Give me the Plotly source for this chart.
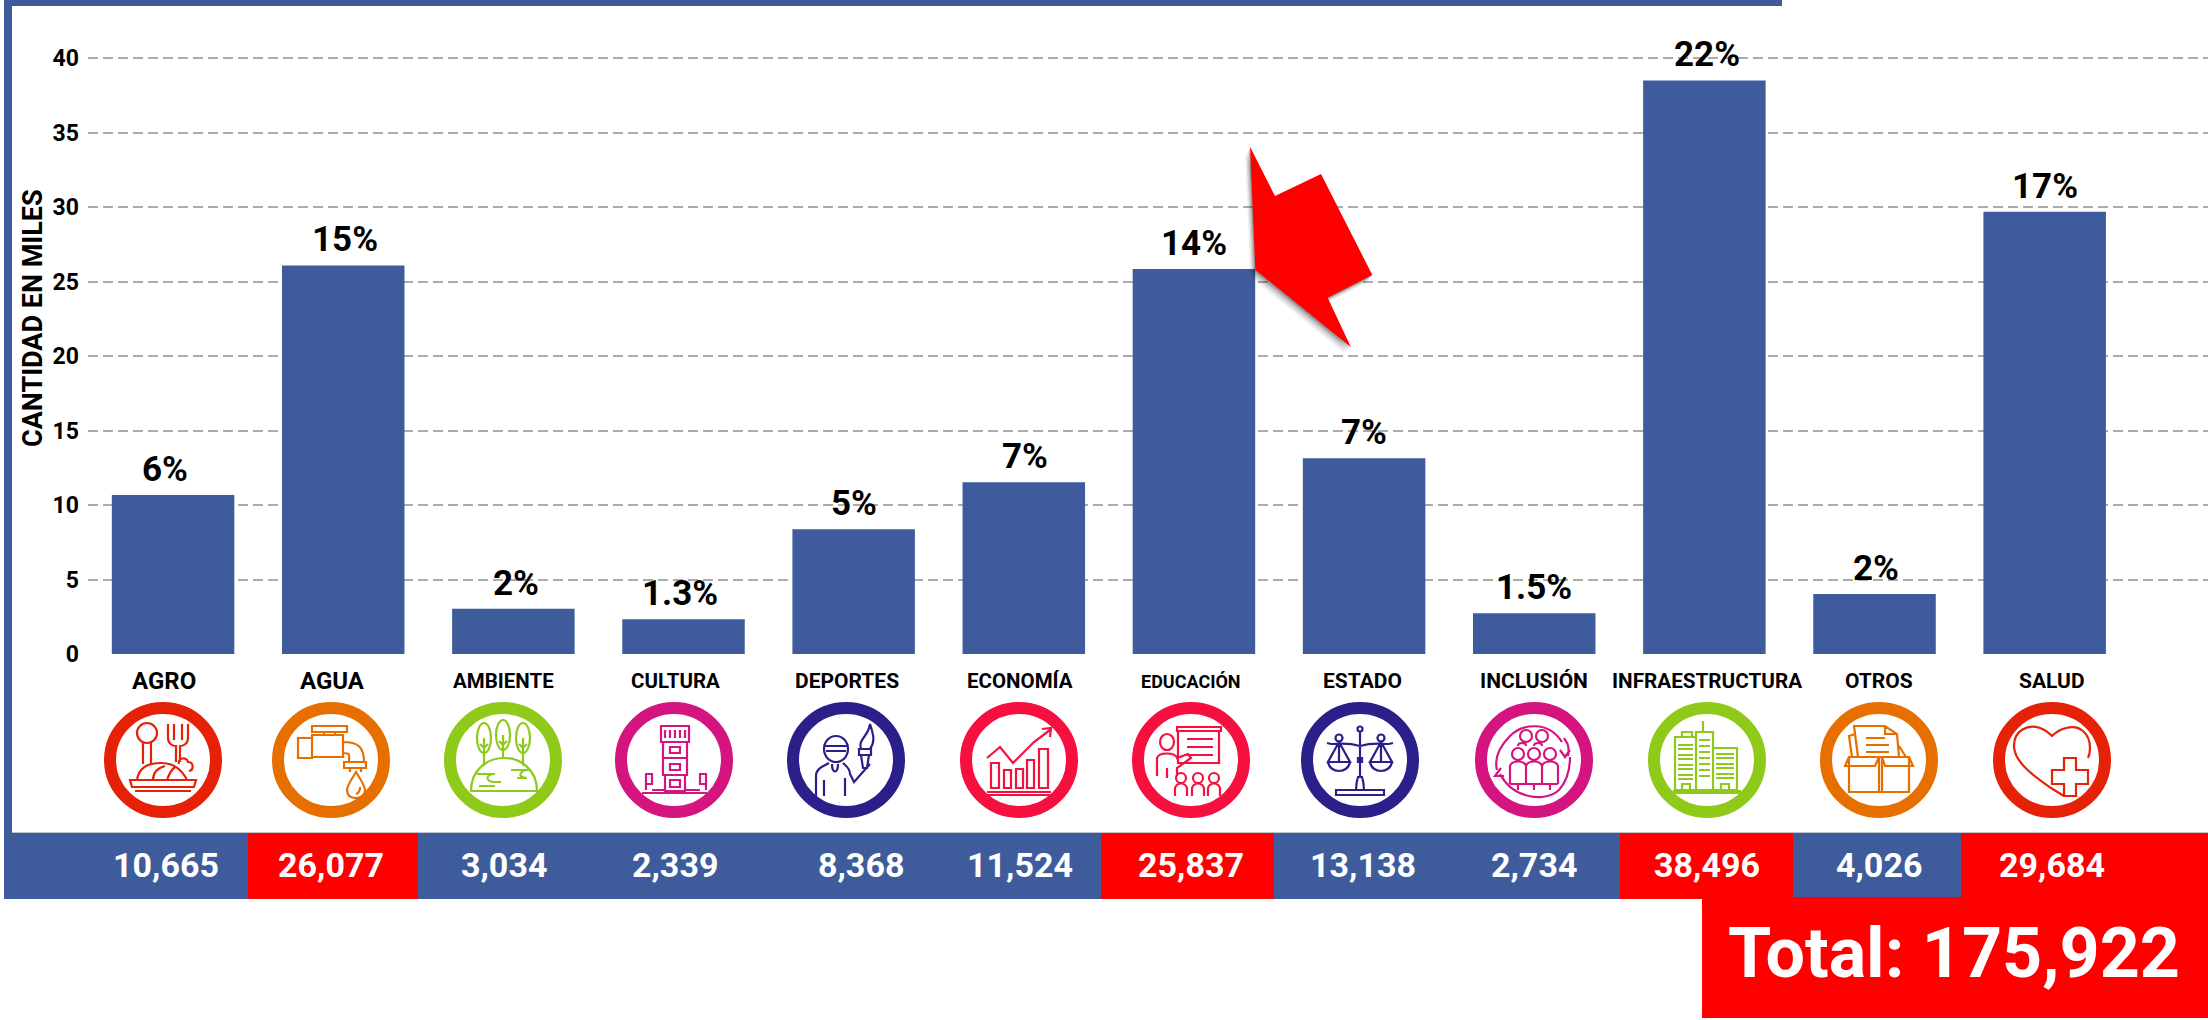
import re
import plotly.graph_objects as go

W, H = 2208, 1020

categorias = ["AGRO", "AGUA", "AMBIENTE", "CULTURA", "DEPORTES", "ECONOMÍA", "EDUCACIÓN",
              "ESTADO", "INCLUSIÓN", "INFRAESTRUCTURA", "OTROS", "SALUD"]
cantidades = [10665, 26077, 3034, 2339, 8368, 11524, 25837, 13138, 2734, 38496, 4026, 29684]
porcentajes = ["6%", "15%", "2%", "1.3%", "5%", "7%", "14%", "7%", "1.5%", "22%", "2%", "17%"]
total_texto = "Total: 175,922"
eje_titulo = "CANTIDAD EN MILES"
y_ticks = [0, 5, 10, 15, 20, 25, 30, 35, 40]

BLUE = "#3E5C9C"
RED = "#FF0000"
GRID = "#ABABAB"
etiqueta_px = [164, 332, 504, 675, 847, 1020, 1191, 1362, 1534, 1707, 1879, 2052]
etiqueta_size = [24, 24, 20.5, 20.5, 21, 20.5, 18, 21, 21, 20.7, 21, 21]
icono_px = [163, 331, 503, 674, 846, 1019, 1191, 1360, 1534, 1707, 1879, 2052]
valor_px = [166, 331, 504, 675, 861, 1020, 1191, 1363, 1534, 1707, 1879, 2052]
pct_xshift = [-8, 2, 3, -4, 0, 1, 0, 0, 0, 3, 1, 0]
anillo = ["#E52207", "#E66F00", "#8FC91A", "#D4147F", "#2B1F8A", "#F5103F",
          "#F5103F", "#2B1F8A", "#D4147F", "#8FC91A", "#E66F00", "#E52207"]

fx = lambda p: p / W
fy = lambda p: 1 - p / H


def abs_path(d, cx=0, cy=0):
    toks = re.findall(r"[MLCQZ]|-?\d+\.?\d*", d)
    out = []
    isx = True
    for t in toks:
        if t in "MLCQZ":
            out.append(t)
            isx = True
        else:
            v = float(t)
            out.append(f"{fx(v + cx):.6f}" if isx else f"{fy(v + cy):.6f}")
            isx = not isx
    return " ".join(out)


def ell(cx, cy, rx, ry=None):
    ry = ry if ry is not None else rx
    k = 0.5523
    return (f"M{cx - rx} {cy} C{cx - rx} {cy - k * ry} {cx - k * rx} {cy - ry} {cx} {cy - ry} "
            f"C{cx + k * rx} {cy - ry} {cx + rx} {cy - k * ry} {cx + rx} {cy} "
            f"C{cx + rx} {cy + k * ry} {cx + k * rx} {cy + ry} {cx} {cy + ry} "
            f"C{cx - k * rx} {cy + ry} {cx - rx} {cy + k * ry} {cx - rx} {cy} Z ")


def rc(x0, y0, x1, y1):
    return f"M{x0} {y0} L{x1} {y0} L{x1} {y1} L{x0} {y1} Z "


iconos = {
    "AGRO": ell(-16, -27, 10, 10) + "M-20 -18 L-20 4 M-12 -18 L-12 4 "
            "M5 -36 L5 -22 C5 -16 10 -14 13 -14 L13 2 M25 -36 L25 -22 C25 -16 20 -14 17 -14 L17 2 "
            "M11 -36 L11 -20 M19 -36 L19 -20 "
            "M-26 20 C-24 6 -12 3 -2 3 C8 3 18 8 24 20 M-10 20 C-10 12 -5 8 2 6 M4 20 C6 14 8 10 12 7 "
            "M16 4 C14 -2 24 -4 25 2 C31 2 31 10 26 11 "
            "M-33 20 L33 20 L31 27 L-31 27 Z M-28 31 L28 31",
    "AGUA": rc(-33, -22, -19, -2) + rc(-19, -25, 12, -3) + rc(-19, -34, 16, -28) + "M-7 -28 L-7 -25 M4 -28 L4 -25 "
            "M12 -18 C26 -18 33 -14 33 2 M12 -7 C20 -7 18 -5 18 2 " + rc(13, 2, 35, 8) +
            "M19 8 L19 12 M30 8 L30 12 M25 12 C20 20 16 26 16 30 C16 36 20 38 25 38 C30 38 34 36 34 30 C34 26 30 20 25 12 Z "
            "M29 27 C29 31 28 33 25 34",
    "AMBIENTE": ell(-19, -22, 7, 15) + ell(0, -25, 7, 15) + ell(20, -22, 7, 15) +
                "M-19 -22 L-19 6 M0 -25 L0 -3 M20 -22 L20 6 M-23 -16 L-19 -12 L-15 -16 M-4 -19 L0 -15 L4 -19 M16 -16 L20 -12 L24 -16 "
                "M-32 31 C-32 10 -16 -2 1 -2 C18 -2 34 10 34 31 Z "
                "M-26 14 L-8 14 C-18 14 -18 22 -8 22 L-2 22 M8 10 L26 10 C16 10 14 18 24 18 L14 18 M-24 26 L-8 26",
    "CULTURA": rc(-13, -34, 15, -18) + rc(-11, -18, 13, -2) + rc(-11, -2, 13, 15) + rc(-9, 15, 11, 31) +
               "M-9 -30 L-9 -22 M-4 -30 L-4 -22 M1 -30 L1 -22 M6 -30 L6 -22 M11 -30 L11 -22 " +
               rc(-4, -13, 6, -7) + rc(-4, 4, 6, 10) + rc(-4, 20, 6, 27) +
               "M-32 33 L33 33 M-28 30 L-28 14 L-22 14 L-22 24 L-28 24 M32 30 L32 14 L26 14 L26 24 L32 24 M-22 30 L-9 30 M11 30 L26 30",
    "DEPORTES": ell(-10, -11, 12, 13) + "M-22 -14 L2 -14 M-20 -9 L0 -9 "
                "M-30 36 L-30 16 C-30 8 -22 6 -17 3 M-3 3 C0 6 4 8 4 14 L8 22 L24 4 M-22 36 L-22 20 M-1 36 L-1 18 "
                "M-14 4 C-14 14 -8 14 -8 4 " + rc(13, -11, 25, -5) +
                "M15 -5 L17 8 L21 8 L23 -5 M15 -11 C12 -22 22 -22 24 -36 C28 -24 29 -18 24 -11",
    "ECONOMÍA": rc(-28, 3, -20, 28) + rc(-15, 10, -8, 28) + rc(-3, 9, 4, 28) + rc(8, 0, 15, 28) + rc(20, -11, 29, 28) +
                "M-32 -2 L-19 -13 L-6 3 L15 -18 L31 -30 M23 -31 L32 -32 L31 -23 M-32 32 L32 32 M-32 35 L32 35",
    "EDUCACIÓN": rc(-14, -33, 30, -29) + rc(-13, -29, 28, 3) + "M-4 -21 L22 -21 M-4 -13 L22 -13 M-4 -5 L22 -5 " +
                 ell(-24, -18, 7, 8) +
                 "M-34 16 L-34 -2 C-32 -8 -16 -8 -14 -2 L-3 -6 L0 -2 L-14 8 L-14 16 M-24 8 L-24 18 " +
                 ell(-10, 18, 5) + ell(7, 18, 5) + ell(23, 18, 5) +
                 "M-16 36 L-16 28 C-14 22 -6 22 -4 28 L-4 36 M1 36 L1 28 C3 22 11 22 13 28 L13 36 M17 36 L17 28 C19 22 27 22 29 28 L29 36",
    "ESTADO": ell(0, -31, 2.5) + "M0 -28 L0 17 " + rc(-2, -2, 2, 2) + "M-4 30 C-4 24 -3 20 -2 17 L2 17 C3 20 4 24 4 30 " +
              rc(-24, 30, 24, 35) + "M-14 30 L14 30 "
              "M-33 -17 L-29 -16 C-20 -16 -14 -18 0 -14 C14 -18 20 -16 29 -16 L33 -17 " +
              ell(-21, -22, 3.5) + ell(21, -22, 3.5) +
              "M-21 -18 L-32 2 L-10 2 Z M-21 -18 L-21 2 M21 -18 L10 2 L32 2 Z M21 -18 L21 2 "
              "M-32 2 C-30 14 -12 14 -10 2 M10 2 C12 14 30 14 32 2",
    "INCLUSIÓN": "M-24 -24 C-12 -36 14 -40 28 -18 M34 -4 C36 -16 32 -18 30 -22 M36 -10 L31 -3 L26 -10 "
                 "M25 30 C12 42 -20 40 -34 14 M-33 8 L-39 16 L-30 16 M-37 10 C-40 -2 -34 -14 -24 -24 "
                 "M25 30 C32 22 36 10 36 -3 " +
                 ell(-8, -24, 6) + ell(8, -24, 6) + ell(-16, -6, 6) + ell(0, -6, 6) + ell(16, -6, 6) +
                 "M-24 24 L-24 6 C-22 0 -10 0 -8 6 L-8 24 M-8 24 L-8 6 C-6 0 6 0 8 6 L8 24 M8 24 L8 6 C10 0 22 0 24 6 L24 24 "
                 "M-24 24 L-8 24 M-8 24 L8 24 M8 24 L24 24 "
                 "M-16 -14 C-16 -18 -8 -18 -8 -14 M0 -14 C0 -18 8 -18 8 -14 M-16 24 L-16 30 M0 24 L0 30 M16 24 L16 30",
    "INFRAESTRUCTURA": rc(-32, -23, -11, 30) + rc(-11, -28, 6, 30) + rc(6, -12, 30, 30) +
                       "M-4 -39 L-4 -28 M-25 -23 L-25 -28 L-15 -28 L-15 -23 M-34 31 L34 31 M-36 33 L34 33 "
                       "M-29 -15 L-14 -15 M-29 -11 L-14 -11 M-29 -5 L-14 -5 M-29 -1 L-14 -1 M-29 5 L-14 5 M-29 9 L-14 9 "
                       "M-29 15 L-14 15 M-29 19 L-14 19 M-8 -20 L3 -20 M-8 -14 L3 -14 M-8 -8 L3 -8 M-8 -2 L3 -2 M-8 4 L3 4 M-8 10 L3 10 "
                       "M-8 16 L3 16 M9 -6 L27 -6 M9 -2 L27 -2 M9 4 L27 4 M9 8 L27 8 M9 14 L27 14 M9 18 L27 18 "
                       "M-25 30 L-25 24 L-17 24 L-17 30 M14 30 L14 24 L22 24 L22 30",
    "OTROS": rc(-30, -3, 30, 32) + "M0 -3 L0 32 M3 -3 L3 32 M-30 -3 L-34 6 L-4 6 L0 -3 M30 -3 L34 6 L6 6 L3 -3 "
             "M-27 -3 L-30 -24 L-24 -26 M-21 -3 L-25 -34 L6 -34 L18 -26 L20 -3 M6 -34 L6 -26 L18 -26 M20 -14 L27 -3 "
             "M-13 -22 L6 -22 M-13 -15 L10 -15 M-13 -8 L10 -8",
    "SALUD": "M12 36 L-1 28 C-12 20 -38 4 -38 -14 C-38 -30 -24 -36 -12 -32 C-6 -30 -2 -26 0 -24 "
             "C2 -26 6 -30 14 -32 C28 -36 38 -26 38 -12 C38 -8 37 -4 36 -2 "
             "M12 10 L12 -2 L24 -2 L24 10 L36 10 L36 24 L24 24 L24 36 L12 36 L12 24 L0 24 L0 10 Z",
}

shapes = [
    dict(type="rect", xref="paper", yref="paper", x0=fx(4), x1=fx(1782), y0=fy(0), y1=fy(6),
         fillcolor=BLUE, line=dict(width=0), layer="below"),
    dict(type="rect", xref="paper", yref="paper", x0=fx(4), x1=fx(12), y0=fy(0), y1=fy(840),
         fillcolor=BLUE, line=dict(width=0), layer="below"),
    dict(type="rect", xref="paper", yref="paper", x0=fx(4), x1=fx(2208), y0=fy(833), y1=fy(899),
         fillcolor=BLUE, line=dict(width=0), layer="below"),
    dict(type="line", xref="paper", yref="paper", x0=fx(12), x1=fx(2208), y0=fy(832.5), y1=fy(832.5),
         line=dict(color="#BFC4CE", width=1), layer="below"),
]
for x0, x1, y0, y1 in [(248, 418, 833, 899), (1101, 1274, 833, 899), (1620, 1793, 833, 899),
                       (1961, 2208, 833, 899), (1702, 2208, 897, 1018)]:
    shapes.append(dict(type="rect", xref="paper", yref="paper", x0=fx(x0), x1=fx(x1), y0=fy(y0), y1=fy(y1),
                       fillcolor=RED, line=dict(width=0), layer="below"))

flecha = [(450, 80), (525, 228), (663, 162), (817, 465), (683, 533), (753, 682), (466, 450)]
flecha_px = [(1100 + a / 3, 120 + b / 3) for a, b in flecha]


def poly(pts, dx=0, dy=0):
    return abs_path("M" + " L".join(f"{x + dx} {y + dy}" for x, y in pts) + " Z")


for off, op in [(7, 0.07), (5, 0.10), (3, 0.14), (1.5, 0.18)]:
    shapes.append(dict(type="path", xref="paper", yref="paper", path=poly(flecha_px, -off * 0.7, off),
                       fillcolor=f"rgba(0,0,0,{op})", line=dict(width=0), layer="above"))
shapes.append(dict(type="path", xref="paper", yref="paper", path=poly(flecha_px),
                   fillcolor=RED, line=dict(width=0), layer="above"))

for cat, cx, color in zip(categorias, icono_px, anillo):
    shapes.append(dict(type="path", xref="paper", yref="paper",
                       path=abs_path(ell(0, 0, 53, 52), cx, 760),
                       fillcolor="rgba(0,0,0,0)", line=dict(color=color, width=12), layer="above"))
    shapes.append(dict(type="path", xref="paper", yref="paper",
                       path=abs_path(iconos[cat], cx, 760),
                       fillcolor="rgba(0,0,0,0)", line=dict(color=color, width=2.2), layer="above"))

ann = []
for cat, v, p, dx in zip(categorias, cantidades, porcentajes, pct_xshift):
    ann.append(dict(text=p, x=cat, y=v / 1000, xref="x", yref="y", showarrow=False,
                    xanchor="center", yanchor="bottom", xshift=dx, yshift=3,
                    font=dict(family="Roboto", size=35, color="#000", weight=700)))
for cat, x, s in zip(categorias, etiqueta_px, etiqueta_size):
    ann.append(dict(text=cat, xref="paper", yref="paper", x=fx(x), y=fy(681), showarrow=False,
                    xanchor="center", yanchor="middle",
                    font=dict(family="Roboto", size=s, color="#000", weight=700)))
for v, x in zip(cantidades, valor_px):
    ann.append(dict(text=f"{v:,}", xref="paper", yref="paper", x=fx(x), y=fy(865), showarrow=False,
                    xanchor="center", yanchor="middle",
                    font=dict(family="Roboto", size=34, color="#fff", weight=700)))
ann.append(dict(text=total_texto, xref="paper", yref="paper", x=fx(1954), y=fy(953), showarrow=False,
                xanchor="center", yanchor="middle",
                font=dict(family="Roboto", size=70, color="#fff", weight=700)))
ann.append(dict(text=eje_titulo, xref="paper", yref="paper", x=fx(33), y=fy(318), showarrow=False,
                textangle=-90, xanchor="center", yanchor="middle",
                font=dict(family="Roboto", size=27, color="#000", weight=700)))

fig = go.Figure(go.Bar(
    x=categorias, y=[v / 1000 for v in cantidades], width=0.72,
    marker=dict(color=BLUE, line=dict(width=0)),
))
fig.update_layout(
    width=W, height=H, margin=dict(l=0, r=0, t=0, b=0, pad=0), autosize=False,
    paper_bgcolor="#fff", plot_bgcolor="#fff", showlegend=False,
    xaxis=dict(domain=[88 / W, 1], range=[-0.5, 11.96], showticklabels=False, showgrid=False,
               zeroline=False, showline=False, ticks="", type="category", automargin=False),
    yaxis=dict(domain=[1 - 654 / H, 1], range=[0, 654 / 14.9], tickvals=y_ticks, automargin=False,
               showgrid=True, gridcolor=GRID, gridwidth=2, griddash="10px,5px",
               zeroline=False, showline=False, ticks="", ticklabelstandoff=8,
               tickfont=dict(family="Roboto", size=23, color="#000", weight=700)),
    shapes=shapes, annotations=ann,
)
fig.write_html("out.html", config={"displayModeBar": False},
               post_script="document.body.style.margin='0';")
